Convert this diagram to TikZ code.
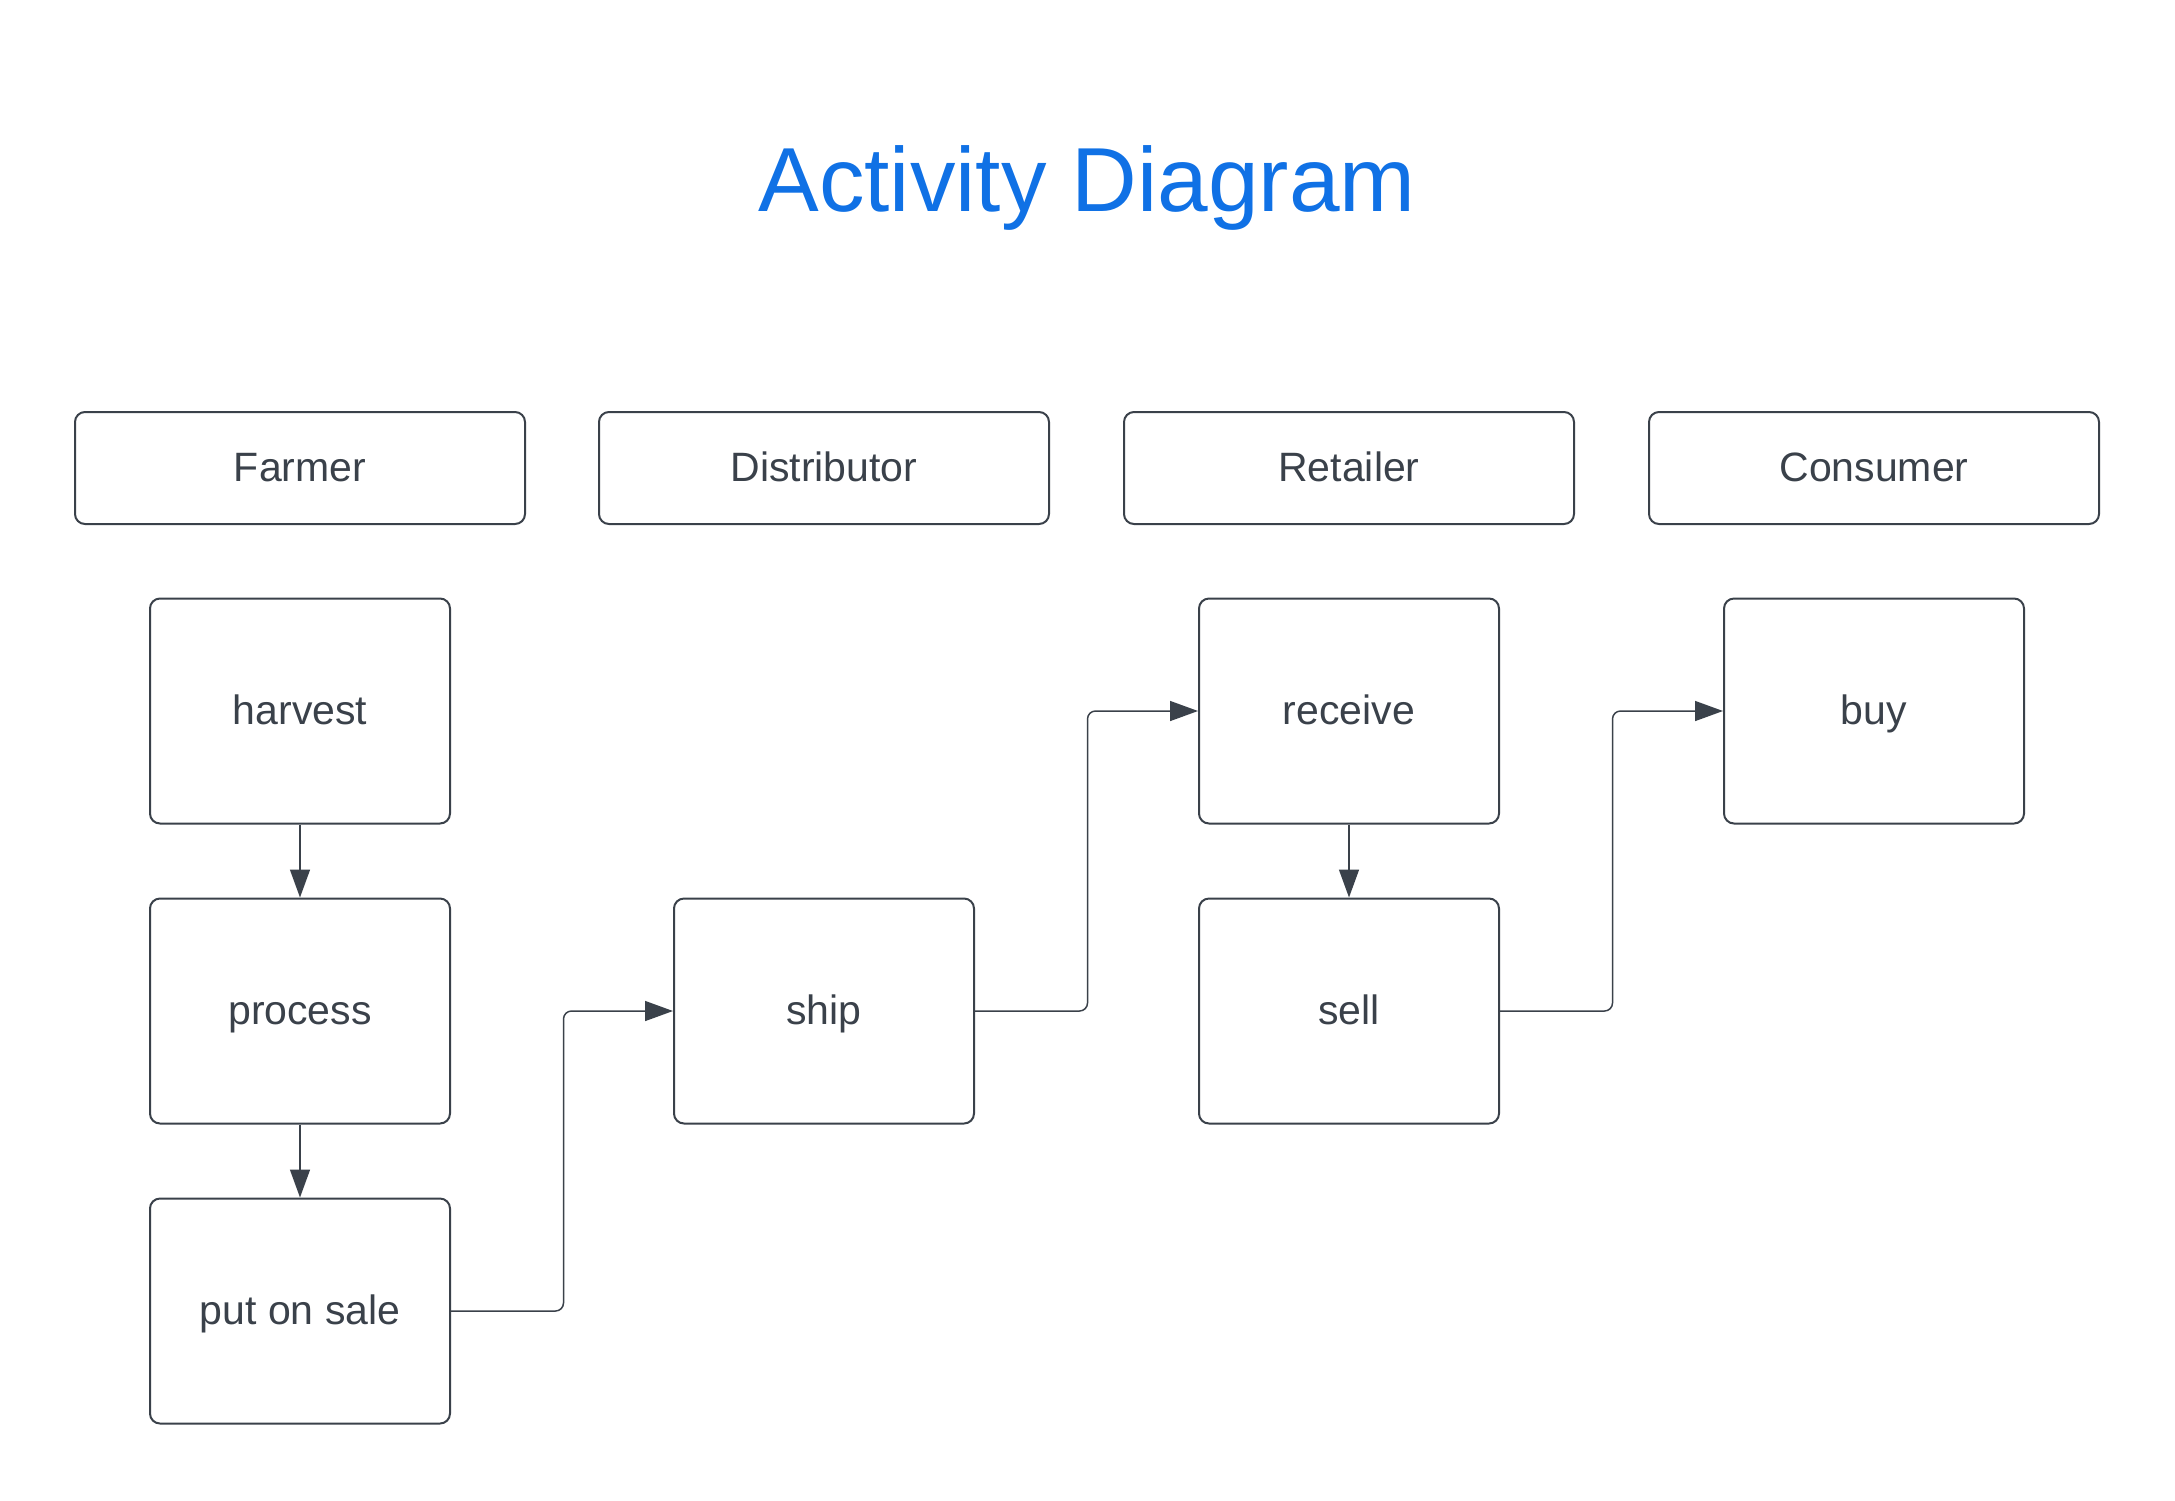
\documentclass[tikz,border=0pt]{standalone}
\usepackage{fontspec}
\setmainfont{Liberation Sans}
\usetikzlibrary{arrows.meta}
\definecolor{ink}{HTML}{3A414A}
\definecolor{titleblue}{HTML}{1071E5}
\tikzset{
  boxtext/.style={text=ink, font=\fontsize{41}{49}\selectfont, text height=26pt, text depth=0pt},
  lane/.style={boxtext, draw=ink, line width=2pt, rounded corners=10pt, minimum width=450pt, minimum height=112pt, inner sep=0pt},
  act/.style={boxtext, draw=ink, line width=2pt, rounded corners=10pt, minimum width=300pt, minimum height=225pt, inner sep=0pt},
  conn/.style={draw=ink, line width=1.5pt, rounded corners=8pt, -{Triangle[length=28pt, width=20pt]}},
}
\begin{document}
\begin{tikzpicture}[x=1pt, y=-1pt]
\useasboundingbox (0,0) rectangle (2175,1500);
\node[text=titleblue, font=\fontsize{91}{100}\selectfont, text height=66pt, text depth=0pt, inner sep=0pt] (title) at (1087,178) {Activity Diagram};
\node[lane] (farmer) at (300,468) {Farmer};
\node[lane] (distributor) at (824,468) {Distributor};
\node[lane] (retailer) at (1349,468) {Retailer};
\node[lane] (consumer) at (1874,468) {Consumer};
\node[act] (harvest) at (300,711) {harvest};
\node[act] (process) at (300,1011) {process};
\node[act] (sale) at (300,1311) {put on sale};
\node[act] (ship) at (824,1011) {ship};
\node[act] (receive) at (1349,711) {receive};
\node[act] (sell) at (1349,1011) {sell};
\node[act] (buy) at (1874,711) {buy};
\draw[conn] (harvest.south) -- (process.north);
\draw[conn] (process.south) -- (sale.north);
\draw[conn] (receive.south) -- (sell.north);
\draw[conn] (sale.east) -- ++(112.5,0) |- (ship.west);
\draw[conn] (ship.east) -- ++(112.5,0) |- (receive.west);
\draw[conn] (sell.east) -- ++(112.5,0) |- (buy.west);
\end{tikzpicture}
\end{document}
